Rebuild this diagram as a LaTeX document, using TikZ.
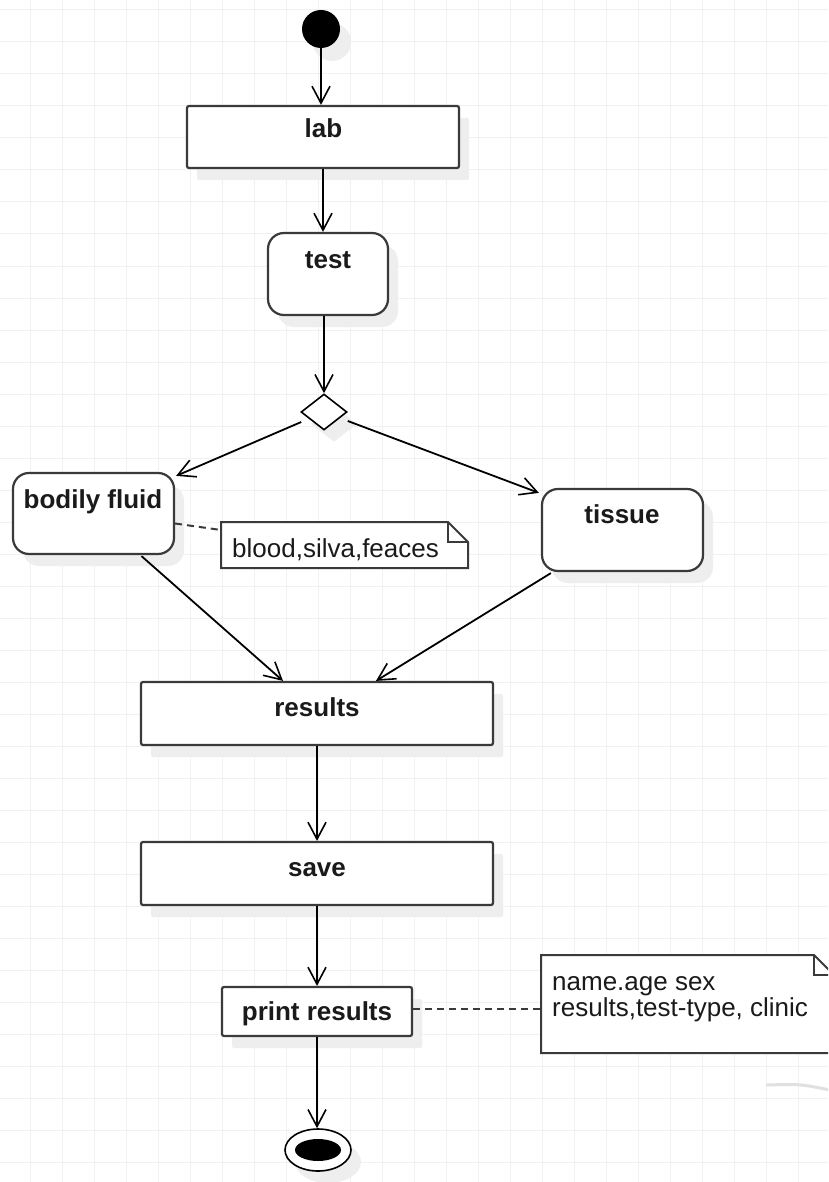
\documentclass[tikz,border=0pt]{standalone}
\usepackage{fontspec}
\setmainfont{Liberation Sans}
\usetikzlibrary{arrows.meta,shapes.geometric,calc,shadows}
\definecolor{gridline}{HTML}{F1F1F1}
\definecolor{shade}{HTML}{EEEEEE}
\definecolor{edge}{HTML}{3A3A3A}
\definecolor{ink}{HTML}{1A1A1A}
\begin{document}
\begin{tikzpicture}[x=1pt,y=-1pt,
  shadowed/.style={drop shadow={shadow xshift=10pt,shadow yshift=-12pt,fill=shade,opacity=1}},
  action/.style={draw=edge,line width=2.2pt,fill=white,rounded corners=2pt,shadowed,inner sep=0pt},
  state/.style={action,rounded corners=16pt},
  caption/.style={font=\fontsize{26}{28}\selectfont\bfseries,text=ink,inner sep=0pt,anchor=base},
  notetext/.style={font=\fontsize{26}{26}\selectfont,text=ink,inner sep=0pt,align=left,anchor=base west},
  flow/.style={draw=black,line width=1.8pt,-{Straight Barb[length=17pt,width=18pt,line width=1.6pt]}},
  link/.style={draw=edge,line width=2pt,dash pattern=on 7pt off 5pt},
  noteline/.style={draw=edge,line width=2pt,fill=white,line join=miter},
  notearea/.style={inner sep=0pt,outer sep=0pt},
]
\useasboundingbox (0,0) rectangle (828,1182);
\clip (0,0) rectangle (828,1182);
\fill[white] (0,0) rectangle (828,1182);

% background grid
\foreach \gx in {30,62,...,830} \draw[gridline,line width=1pt] (\gx,0) -- (\gx,1182);
\foreach \gy in {10,42,...,1190} \draw[gridline,line width=1pt] (0,\gy) -- (828,\gy);
\draw[black!12,line width=3pt,line cap=round] (767,1085) .. controls (800,1084) .. (830,1090);

% initial and final states
\node[circle,fill=black,minimum size=38pt,inner sep=0pt,
      drop shadow={shadow xshift=11pt,shadow yshift=-13pt,fill=shade,opacity=1}] (start) at (321,29) {};
\node[ellipse,draw=black,line width=1.6pt,fill=white,minimum width=66pt,minimum height=42pt,
      inner sep=0pt,shadowed] (stop) at (318,1150) {};
\node[ellipse,fill=black,minimum width=46pt,minimum height=22pt,inner sep=0pt] (stopcore) at (stop) {};

% actions
\node[action,minimum width=272pt,minimum height=62pt] (lab) at (323,137) {};
\node[caption] (labt) at (323.5,138) {lab};
\node[state,minimum width=120pt,minimum height=82pt] (test) at (328,274) {};
\node[caption] (testt) at (328,268) {test};
\node[diamond,draw=black,line width=1.6pt,fill=white,minimum width=46pt,minimum height=36pt,
      inner sep=0pt,shadowed] (dec) at (324,412) {};
\node[state,minimum width=161pt,minimum height=81pt] (bf) at (93.5,513.5) {};
\node[caption] (bft) at (93,508) {bodily fluid};
\node[state,minimum width=161pt,minimum height=82pt] (tis) at (622.5,530) {};
\node[caption] (tist) at (622,523) {tissue};
\node[action,minimum width=352pt,minimum height=63pt] (res) at (317,713.5) {};
\node[caption] (rest) at (317,716) {results};
\node[action,minimum width=352pt,minimum height=63pt] (save) at (317,873.5) {};
\node[caption] (savet) at (317,876) {save};
\node[action,minimum width=190pt,minimum height=49pt] (print) at (317,1011.5) {};
\node[caption] (printt) at (317,1020) {print results};

% notes with folded corners
\node[notearea,minimum width=247pt,minimum height=46pt] (n1) at (344.5,545) {};
\draw[noteline] (n1.north west) -- ($(n1.north east)+(-20,0)$) -- ($(n1.north east)+(0,20)$)
  -- (n1.south east) -- (n1.south west) -- cycle;
\draw[noteline,fill=none] ($(n1.north east)+(-20,0)$) |- ($(n1.north east)+(0,20)$);
\node[notetext] (n1t) at (232,557) {blood,silva,feaces};

\node[notearea,minimum width=293pt,minimum height=98pt] (n2) at (687.5,1004) {};
\draw[noteline] (n2.north west) -- ($(n2.north east)+(-20,0)$) -- ($(n2.north east)+(0,20)$)
  -- (n2.south east) -- (n2.south west) -- cycle;
\draw[noteline,fill=none] ($(n2.north east)+(-20,0)$) |- ($(n2.north east)+(0,20)$);
\node[notetext] (n2t) at (552,1016) {name.age sex\\results,test-type, clinic};

% note attachments
\draw[link] ($(bf.east)+(0,10)$) -- ($(n1.west)+(0,-15)$);
\draw[link] ($(print.east)+(0,-3)$) -- ($(print.east -| n2.west)+(0,-3)$);

% control flow
\draw[flow] (start) -- (start |- lab.north);
\draw[flow] (lab.south) -- (lab.south |- test.north);
\draw[flow] (dec.north |- test.south) -- (dec.north);
\draw[flow] ($(dec.west)+(1,10)$) -- ($(bf.north east)+(1,4)$);
\draw[flow] ($(dec.east)+(0,9)$) -- ($(tis.north west)+(-2,5)$);
\draw[flow] ($(bf.south)+(48,1)$) -- ($(res.north)+(-34,0)$);
\draw[flow] ($(tis.south west)+(10,1)$) -- ($(res.north)+(59,0)$);
\draw[flow] (res.south) -- (res.south |- save.north);
\draw[flow] (save.south) -- (save.south |- print.north);
\draw[flow] (print.south) -- (print.south |- stop.north);
\end{tikzpicture}
\end{document}
